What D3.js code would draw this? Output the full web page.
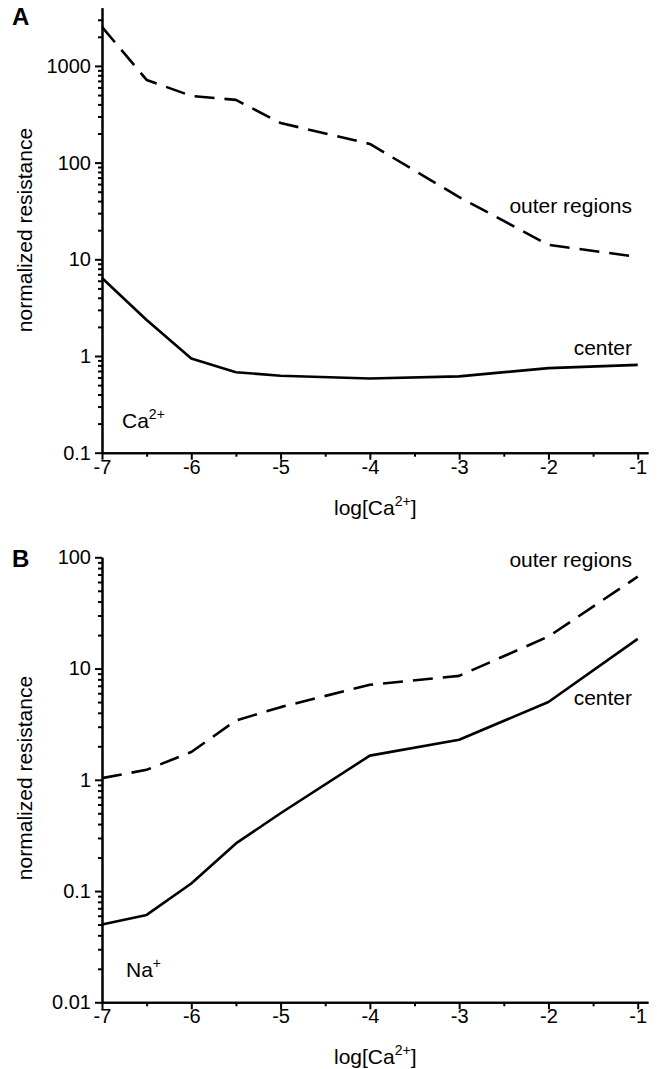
<!DOCTYPE html>
<html lang="en">
<head>
  <meta charset="UTF-8" />
  <title>Normalized resistance vs log[Ca2+]</title>
  <style>
    body { margin: 0; background: #fff; }
    svg { display: block; font-family: 'Liberation Sans', Arial, sans-serif; }
    .axis path, .axis line { stroke: #000; stroke-width: 2px; }
    .axis text { font-size: 20px; fill: #000; }
    .curve { fill: none; stroke: #000; stroke-width: 2.6px; stroke-linejoin: round; }
    .lbl { font-size: 21px; fill: #000; }
    .panel { font-size: 24px; font-weight: bold; fill: #000; }
  </style>
</head>
<body>
<svg id="chart" width="657" height="1069"></svg>
<script src="https://d3js.org/d3.v7.min.js"></script>
<script>
// x positions, log[Ca2+]
const logCa = [-7, -6.5, -6, -5.5, -5, -4, -3, -2, -1];

// panel A: Ca2+
const caOuter  = [2530, 716, 490, 445, 257, 156, 44, 14.1, 10.6];
const caCenter = [6.4, 2.36, 0.94, 0.68, 0.625, 0.586, 0.616, 0.75, 0.81];

// panel B: Na+
const naOuter  = [1.035, 1.23, 1.78, 3.41, 4.5, 7.15, 8.6, 19.4, 67];
const naCenter = [0.050, 0.061, 0.117, 0.268, 0.50, 1.65, 2.29, 5.0, 18.5];

const xMajor = [-7, -6, -5, -4, -3, -2, -1];
const xMinor = [-6.5, -5.5, -4.5, -3.5, -2.5, -1.5];

const svg = d3.select("#chart");

const x = d3.scaleLinear().domain([-7, -0.885]).range([102, 648]);

function minorLog(lo, hi) {
  const out = [];
  for (let e = Math.floor(Math.log10(lo)); e < Math.ceil(Math.log10(hi)); e++) {
    for (let m = 2; m <= 9; m++) {
      const v = m * Math.pow(10, e);
      if (v > lo && v < hi) out.push(v);
    }
  }
  return out;
}

function panel(opts) {
  const y = d3.scaleLog().domain(opts.yDomain).range(opts.yRange);
  const g = svg.append("g");
  const xAxisY = opts.yRange[0];

  // x axis
  g.append("g").attr("class", "axis").attr("transform", `translate(0,${xAxisY})`)
    .call(d3.axisBottom(x).tickValues(xMinor).tickSize(4).tickSizeOuter(0).tickFormat(""));
  g.append("g").attr("class", "axis").attr("transform", `translate(0,${xAxisY})`)
    .call(d3.axisBottom(x).tickValues(xMajor).tickSize(7).tickSizeOuter(0)
      .tickFormat(d => String(d)))
    .call(a => a.selectAll("text").attr("y", 21).attr("dy", 0));

  // y axis
  const yl = x.range()[0];
  g.append("g").attr("class", "axis").attr("transform", `translate(${yl},0)`)
    .call(d3.axisLeft(y).tickValues(minorLog(...opts.yDomain)).tickSize(4).tickSizeOuter(0).tickFormat(""));
  g.append("g").attr("class", "axis").attr("transform", `translate(${yl},0)`)
    .call(d3.axisLeft(y).tickValues(opts.yMajor).tickSize(7).tickSizeOuter(0).tickPadding(4)
      .tickFormat(d => String(d)));

  // lines
  const line = d3.line().x(d => x(d[0])).y(d => y(d[1]));
  g.append("path").attr("class", "curve").attr("stroke-dasharray", "20,10")
    .attr("d", line(d3.zip(logCa, opts.outer)));
  g.append("path").attr("class", "curve")
    .attr("d", line(d3.zip(logCa, opts.center)));

  // labels
  g.append("text").attr("class", "panel").attr("x", 12).attr("y", opts.letterY).text(opts.letter);

  g.append("text").attr("class", "lbl")
    .attr("transform", `translate(32,${opts.ylabelY}) rotate(-90)`)
    .attr("text-anchor", "middle").text("normalized resistance");

  const xl = g.append("text").attr("class", "lbl").attr("x", 334).attr("y", xAxisY + 62);
  xl.append("tspan").text("log[Ca");
  xl.append("tspan").attr("dy", -9).attr("font-size", 14).text("2+");
  xl.append("tspan").attr("dy", 9).text("]");

  g.append("text").attr("class", "lbl").attr("x", 632).attr("y", opts.outerLblY)
    .attr("text-anchor", "end").text("outer regions");
  g.append("text").attr("class", "lbl").attr("x", 632).attr("y", opts.centerLblY)
    .attr("text-anchor", "end").text("center");

  const ion = g.append("text").attr("class", "lbl").attr("x", opts.ionX).attr("y", opts.ionY);
  ion.append("tspan").text(opts.ion);
  ion.append("tspan").attr("dy", -9).attr("font-size", 14).text(opts.ionCharge);
}

panel({
  letter: "A", letterY: 25, ylabelY: 230,
  yDomain: [0.1, 4000], yRange: [452.7, 7.7], yMajor: [0.1, 1, 10, 100, 1000],
  outer: caOuter, center: caCenter,
  outerLblY: 213, centerLblY: 355,
  ion: "Ca", ionCharge: "2+", ionX: 122, ionY: 428
});

panel({
  letter: "B", letterY: 567, ylabelY: 778,
  yDomain: [0.01, 100], yRange: [1002.3, 557.3], yMajor: [0.01, 0.1, 1, 10, 100],
  outer: naOuter, center: naCenter,
  outerLblY: 567, centerLblY: 705,
  ion: "Na", ionCharge: "+", ionX: 126, ionY: 977
});
</script>
</body>
</html>
